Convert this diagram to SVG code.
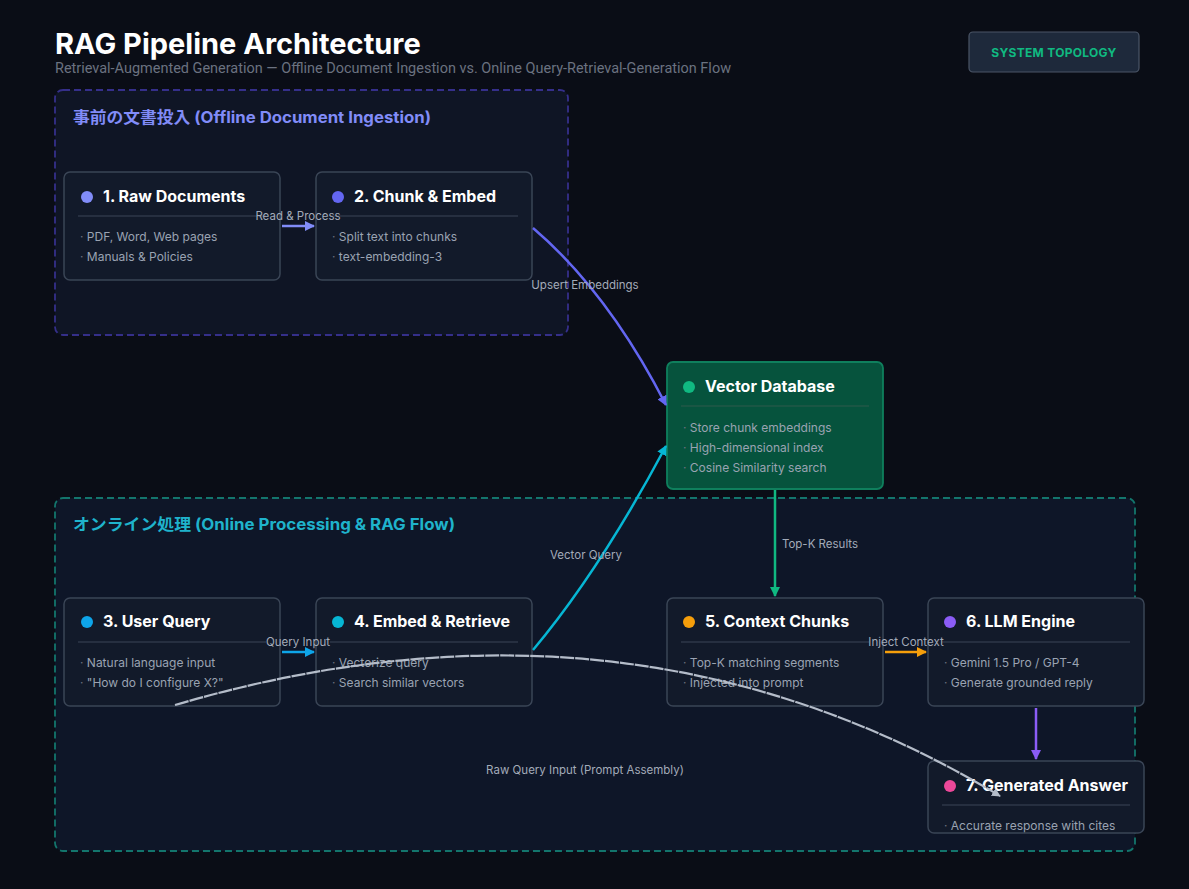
<svg xmlns="http://www.w3.org/2000/svg" width="1189" height="889" viewBox="0 0 1189 889">
<defs>
<style>
.title{font-family:Inter,"Noto Sans",sans-serif;font-weight:700;font-size:29px;fill:#ffffff}
.sub{font-family:Roboto,"Liberation Sans",sans-serif;font-size:14px;fill:#6b7280}
.glabel{font-family:Inter,"Noto Sans","Noto Sans CJK JP",sans-serif;font-weight:700;font-size:16px}
.node{fill:#121a2a;stroke:#3a4556;stroke-width:1.5}
.ntitle{font-family:Inter,"Noto Sans",sans-serif;font-weight:700;font-size:16px;fill:#ffffff}
.div{stroke:#3a4556;stroke-width:1}
.bul{font-family:Inter,"Noto Sans",sans-serif;font-size:12px;fill:#9aa3b2}
.bd{fill:#6b7280}
.clabel{font-family:Inter,"Noto Sans",sans-serif;font-size:11.5px;fill:#a3abb9;text-anchor:middle}
.edge{fill:none;stroke-width:2.5}
</style>
<marker id="aIndigo" viewBox="0 0 10 10" refX="9" refY="5" markerWidth="4" markerHeight="4" orient="auto"><path d="M0,0 L10,5 L0,10 z" fill="#818cf8"/></marker>
<marker id="aViolet" viewBox="0 0 10 10" refX="9" refY="5" markerWidth="4" markerHeight="4" orient="auto"><path d="M0,0 L10,5 L0,10 z" fill="#6366f1"/></marker>
<marker id="aCyan" viewBox="0 0 10 10" refX="9" refY="5" markerWidth="4" markerHeight="4" orient="auto"><path d="M0,0 L10,5 L0,10 z" fill="#06b6d4"/></marker>
<marker id="aSky" viewBox="0 0 10 10" refX="9" refY="5" markerWidth="4" markerHeight="4" orient="auto"><path d="M0,0 L10,5 L0,10 z" fill="#0ea5e9"/></marker>
<marker id="aGreen" viewBox="0 0 10 10" refX="9" refY="5" markerWidth="4" markerHeight="4" orient="auto"><path d="M0,0 L10,5 L0,10 z" fill="#10b981"/></marker>
<marker id="aAmber" viewBox="0 0 10 10" refX="9" refY="5" markerWidth="4" markerHeight="4" orient="auto"><path d="M0,0 L10,5 L0,10 z" fill="#f59e0b"/></marker>
<marker id="aPurple" viewBox="0 0 10 10" refX="9" refY="5" markerWidth="4" markerHeight="4" orient="auto"><path d="M0,0 L10,5 L0,10 z" fill="#8b5cf6"/></marker>
<marker id="aGray" viewBox="0 0 10 10" refX="9" refY="5" markerWidth="4" markerHeight="4" orient="auto"><path d="M0,0 L10,5 L0,10 z" fill="#b4bcc9"/></marker>
</defs>
<rect x="0" y="0" width="1189" height="889" fill="#0a0d16"/>

<g id="header">
<text class="title" x="55" y="54">RAG Pipeline Architecture</text>
<text class="sub" x="55" y="73" textLength="676" lengthAdjust="spacingAndGlyphs">Retrieval-Augmented Generation — Offline Document Ingestion vs. Online Query-Retrieval-Generation Flow</text>
</g>
<g id="badge">
<rect x="969" y="32" width="170" height="40" rx="4" fill="#1e293b" stroke="#4b5567" stroke-width="1.2"/>
<text x="1054" y="57" text-anchor="middle" font-family="Inter,'Liberation Sans',sans-serif" font-weight="700" font-size="12" letter-spacing="0.3" fill="#10b981">SYSTEM TOPOLOGY</text>
</g>

<g id="group-offline">
<rect x="55" y="90" width="513" height="245" rx="8" fill="#0f1525" stroke="#352f8a" stroke-width="1.8" stroke-dasharray="7 4"/>
<text class="glabel" x="73" y="123" fill="#818cf8" textLength="358" lengthAdjust="spacingAndGlyphs">事前の文書投入 (Offline Document Ingestion)</text>
</g>
<g id="group-online">
<rect x="55" y="498" width="1080" height="353" rx="8" fill="#0e1628" stroke="#13756c" stroke-width="1.8" stroke-dasharray="7 4"/>
<text class="glabel" x="73" y="530" fill="#1fb3cc" textLength="382" lengthAdjust="spacingAndGlyphs">オンライン処理 (Online Processing &amp; RAG Flow)</text>
</g>

<g id="node-raw-docs">
<rect class="node" x="64" y="172" width="216" height="108" rx="6"/>
<circle cx="87" cy="197" r="6" fill="#818cf8"/>
<text class="ntitle" x="103" y="202">1. Raw Documents</text>
<line class="div" x1="78" y1="216" x2="266" y2="216"/>
<text class="bul" x="80" y="241"><tspan class="bd">·  </tspan>PDF, Word, Web pages</text>
<text class="bul" x="80" y="261"><tspan class="bd">·  </tspan>Manuals &amp; Policies</text>
</g>
<g id="node-chunk-embed">
<rect class="node" x="316" y="172" width="216" height="108" rx="6"/>
<circle cx="338" cy="197" r="6" fill="#6366f1"/>
<text class="ntitle" x="354" y="202">2. Chunk &amp; Embed</text>
<line class="div" x1="330" y1="216" x2="518" y2="216"/>
<text class="bul" x="332" y="241"><tspan class="bd">·  </tspan>Split text into chunks</text>
<text class="bul" x="332" y="261"><tspan class="bd">·  </tspan>text-embedding-3</text>
</g>
<g id="node-vector-db">
<rect x="667" y="362" width="216" height="127" rx="6" fill="#06533d" stroke="#0f7f5d" stroke-width="1.8"/>
<circle cx="689" cy="387" r="6" fill="#10b981"/>
<text class="ntitle" x="705" y="392">Vector Database</text>
<line x1="681" y1="406" x2="869" y2="406" stroke="#2f5a4c" stroke-width="1"/>
<text class="bul" x="683" y="432"><tspan class="bd">·  </tspan>Store chunk embeddings</text>
<text class="bul" x="683" y="452"><tspan class="bd">·  </tspan>High-dimensional index</text>
<text class="bul" x="683" y="472"><tspan class="bd">·  </tspan>Cosine Similarity search</text>
</g>
<g id="node-user-query">
<rect class="node" x="64" y="598" width="216" height="108" rx="6"/>
<circle cx="87" cy="622" r="6" fill="#0ea5e9"/>
<text class="ntitle" x="103" y="627">3. User Query</text>
<line class="div" x1="78" y1="642" x2="266" y2="642"/>
<text class="bul" x="80" y="667"><tspan class="bd">·  </tspan>Natural language input</text>
<text class="bul" x="80" y="687"><tspan class="bd">·  </tspan>"How do I configure X?"</text>
</g>
<g id="node-embed-retrieve">
<rect class="node" x="316" y="598" width="216" height="108" rx="6"/>
<circle cx="338" cy="622" r="6" fill="#06b6d4"/>
<text class="ntitle" x="354" y="627">4. Embed &amp; Retrieve</text>
<line class="div" x1="330" y1="642" x2="518" y2="642"/>
<text class="bul" x="332" y="667"><tspan class="bd">·  </tspan>Vectorize query</text>
<text class="bul" x="332" y="687"><tspan class="bd">·  </tspan>Search similar vectors</text>
</g>
<g id="node-context-chunks">
<rect class="node" x="667" y="598" width="216" height="108" rx="6"/>
<circle cx="689" cy="622" r="6" fill="#f59e0b"/>
<text class="ntitle" x="705" y="627">5. Context Chunks</text>
<line class="div" x1="681" y1="642" x2="869" y2="642"/>
<text class="bul" x="683" y="667"><tspan class="bd">·  </tspan>Top-K matching segments</text>
<text class="bul" x="683" y="687"><tspan class="bd">·  </tspan>Injected into prompt</text>
</g>
<g id="node-llm-engine">
<rect class="node" x="928" y="598" width="216" height="108" rx="6"/>
<circle cx="950" cy="622" r="6" fill="#8b5cf6"/>
<text class="ntitle" x="966" y="627">6. LLM Engine</text>
<line class="div" x1="942" y1="642" x2="1130" y2="642"/>
<text class="bul" x="944" y="667"><tspan class="bd">·  </tspan>Gemini 1.5 Pro / GPT-4</text>
<text class="bul" x="944" y="687"><tspan class="bd">·  </tspan>Generate grounded reply</text>
</g>
<g id="node-generated-answer">
<rect class="node" x="928" y="761" width="216" height="72" rx="6"/>
<circle cx="950" cy="786" r="6" fill="#ec4899"/>
<text class="ntitle" x="966" y="791">7. Generated Answer</text>
<line class="div" x1="942" y1="805" x2="1130" y2="805"/>
<text class="bul" x="944" y="830"><tspan class="bd">·  </tspan>Accurate response with cites</text>
</g>

<g id="connectors">
<line class="edge" x1="282" y1="226" x2="314" y2="226" stroke="#818cf8" marker-end="url(#aIndigo)"/>
<text class="clabel" x="298" y="220">Read &amp; Process</text>

<path class="edge" d="M533,228 Q608,292 666,405" stroke="#6366f1" marker-end="url(#aViolet)"/>
<text class="clabel" x="585" y="289">Upsert Embeddings</text>

<path class="edge" d="M533,650 Q600,570 666,446" stroke="#06b6d4" marker-end="url(#aCyan)"/>
<text class="clabel" x="586" y="559">Vector Query</text>

<line class="edge" x1="775" y1="490" x2="775" y2="596" stroke="#10b981" marker-end="url(#aGreen)"/>
<text class="clabel" x="820" y="548">Top-K Results</text>

<line class="edge" x1="282" y1="652" x2="314" y2="652" stroke="#0ea5e9" marker-end="url(#aSky)"/>
<text class="clabel" x="298" y="646">Query Input</text>

<line class="edge" x1="885" y1="652" x2="926" y2="652" stroke="#f59e0b" marker-end="url(#aAmber)"/>
<text class="clabel" x="906" y="646">Inject Context</text>

<line class="edge" x1="1036" y1="708" x2="1036" y2="759" stroke="#8b5cf6" marker-end="url(#aPurple)"/>

<path d="M175,705 Q628,572 1000,796" fill="none" stroke="#b4bcc9" stroke-width="2.2" stroke-dasharray="14 1" marker-end="url(#aGray)"/>
<text class="clabel" x="585" y="774">Raw Query Input (Prompt Assembly)</text>
</g>
</svg>
